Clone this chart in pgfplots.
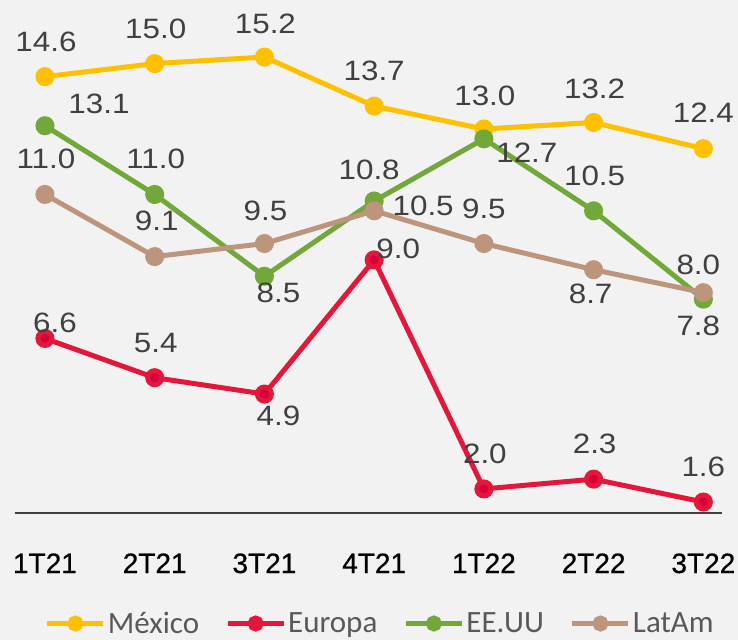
\documentclass[border=0pt]{standalone}
\usepackage{fontspec}
\setmainfont{Liberation Sans}
\newfontfamily\labfont[FakeStretch=1.12]{Liberation Sans}
\newfontfamily\tickfont[FakeBold=0.6]{Liberation Sans}
\newfontfamily\legfont{Carlito}
\usepackage{pgfplots}
\usepackage{pgfplotstable}
\pgfplotsset{compat=1.18}

\definecolor{mex}{HTML}{FFC000}
\definecolor{eur}{HTML}{E4173A}
\definecolor{eurdk}{HTML}{D7003A}
\definecolor{usa}{HTML}{72A83A}
\definecolor{lat}{HTML}{BD957C}
\definecolor{bg}{HTML}{F2F2F2}
\definecolor{labc}{HTML}{404040}
\definecolor{legc}{HTML}{595959}

% x = quarter index, lab = data label, dx/dy = label offset in px
\pgfplotstableread{
x y lab dx dy
0 14.6 14.6 1 35
1 15.0 15.0 1 35
2 15.2 15.2 1 33
3 13.7 13.7 0 35
4 13.0 13.0 1 33
5 13.2 13.2 1 34
6 12.4 12.4 0 36
}\mexico
\pgfplotstableread{
x y lab dx dy
0 6.6 6.6 10 16
1 5.4 5.4 1 35
2 4.9 4.9 14 -22
3 9.0 9.0 24 11
4 2.0 2.0 1 35
5 2.3 2.3 1 35
6 1.6 1.6 0 35
}\europa
\pgfplotstableread{
x y lab dx dy
0 13.1 13.1 54 22
1 11.0 11.0 1 36
2 8.5 8.5 14 -17
3 10.8 10.8 -5 31
4 12.7 12.7 43 -14
5 10.5 10.5 1 35
6 7.8 7.8 -5 -27
}\eeuu
\pgfplotstableread{
x y lab dx dy
0 11.0 11.0 1 36
1 9.1 9.1 2 36
2 9.5 9.5 1 33
3 10.5 10.5 49 5
4 9.5 9.5 0 35
5 8.7 8.7 -3 -24
6 8.0 8.0 -5 28
}\latam

\pgfplotsset{
  lbl/.style={
    nodes near coords,
    point meta=explicit symbolic,
    visualization depends on={\thisrow{dx}\as\ldx},
    visualization depends on={\thisrow{dy}\as\ldy},
    nodes near coords style={font=\labfont\fontsize{28bp}{30bp}\selectfont, text=labc,
      anchor=center, inner sep=0pt, xshift=\ldx bp, yshift=\ldy bp},
  },
}

\begin{document}
\begin{tikzpicture}
\fill[bg] (-15bp,-127bp) rectangle (723bp,513bp);
\begin{axis}[
  at={(0,0)}, anchor=south west,
  scale only axis,
  width=707bp, height=511.6bp,
  xmin=-0.273, xmax=6.17,
  ymin=1.265, ymax=16.9,
  axis x line=bottom, axis y line=none,
  axis line style={draw=labc, line width=2bp, -},
  xtick={0,...,6},
  xticklabels={1T21,2T21,3T21,4T21,1T22,2T22,3T22},
  major tick length=0pt,
  xticklabel style={font=\tickfont\fontsize{28bp}{30bp}\selectfont, text=black, anchor=base, yshift=-60bp},
  clip=false,
  every axis plot/.append style={line width=5bp, mark=*, mark size=7bp},
  legend columns=4,
  legend style={at={(0.516,-0.216)}, anchor=center, draw=none, fill=none,
    font=\legfont\fontsize{31bp}{33bp}\selectfont, text=legc,
    nodes={inner sep=1bp},
    /tikz/every odd column/.style={column sep=1bp},
    /tikz/every even column/.style={column sep=25bp}},
  legend image code/.code={
    \draw[#1, mark=none] (0bp,0bp) -- (56bp,0bp);
    \fill[#1, mark=none] (28bp,0bp) circle[radius=5.5bp];},
]
\addplot[lbl, color=mex, mark options={draw=none, fill=mex}] table[x=x, y=y, meta=lab] {\mexico};
\addplot[lbl, color=eur, mark options={draw=none, fill=eurdk}] table[x=x, y=y, meta=lab] {\europa};
\addplot[lbl, color=usa, mark options={draw=none, fill=usa}] table[x=x, y=y, meta=lab] {\eeuu};
\addplot[lbl, color=lat, mark options={draw=none, fill=lat}] table[x=x, y=y, meta=lab] {\latam};
\legend{México, Europa, EE.UU, LatAm}
\end{axis}
\pgfresetboundingbox
\path[use as bounding box] (-15bp,-127bp) rectangle (723bp,513bp);
\end{tikzpicture}
\end{document}
